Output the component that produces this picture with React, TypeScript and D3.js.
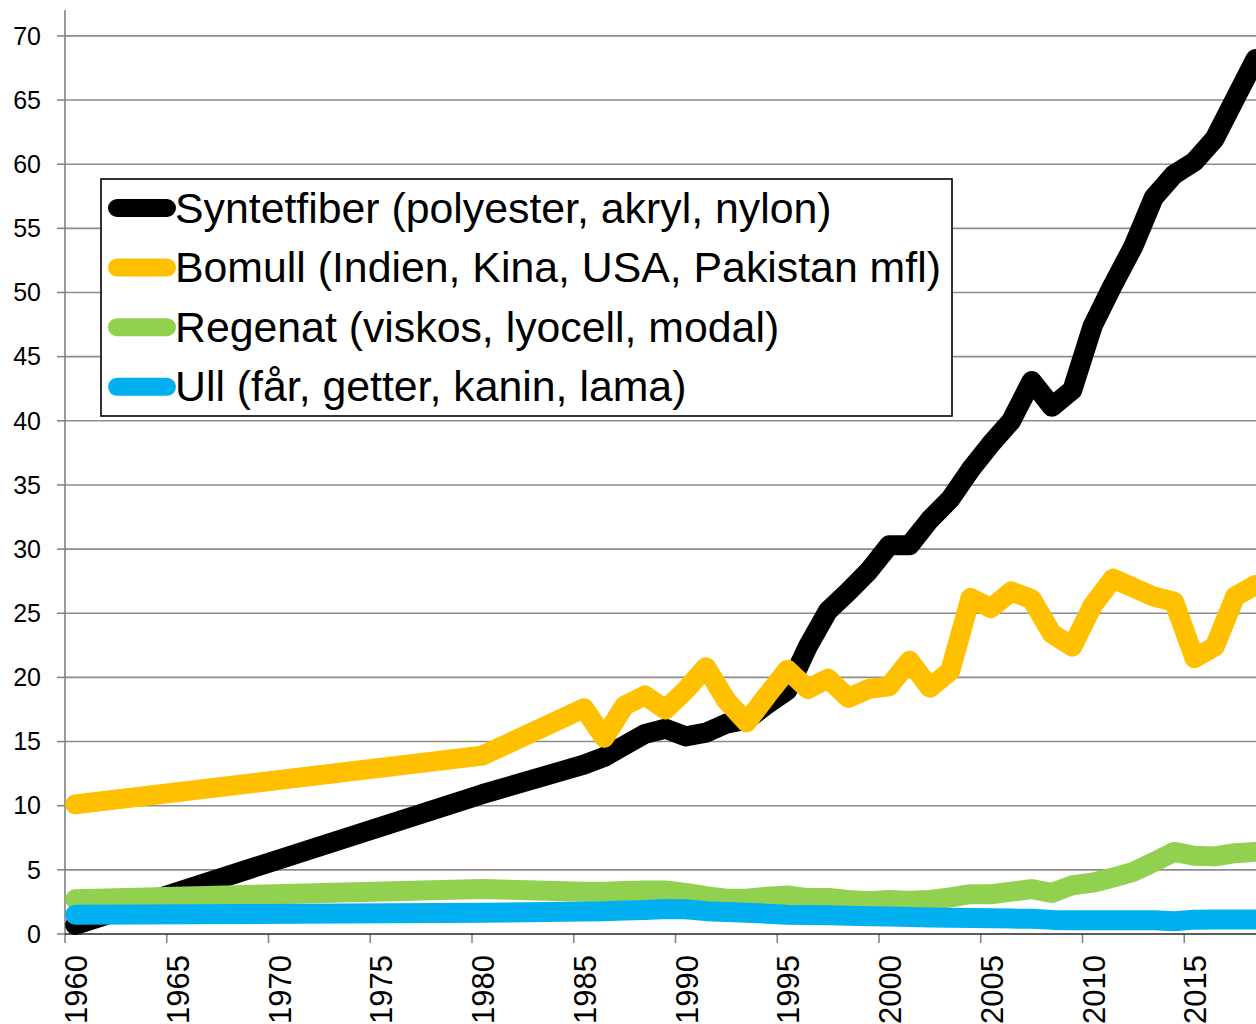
import React from "react";
import * as d3 from "d3";

const categories: number[] = d3.range(1960, 2019);
const dataYears: number[] = [1960, 1980, ...d3.range(1985, 2019)];

const syntetfiber: number[] = [0.7, 10.9,
  13.2, 13.8, 14.7, 15.6, 16.0, 15.4, 15.7, 16.4, 16.7, 17.9,
  19.0, 22.4, 25.2, 26.7, 28.3, 30.3, 30.3, 32.3, 33.9, 36.2,
  38.2, 40.0, 43.1, 41.1, 42.4, 47.4, 50.6, 53.6, 57.4, 59.2,
  60.2, 62.0, 65.1, 68.2];
const bomull: number[] = [10.1, 13.9,
  17.6, 15.3, 17.8, 18.6, 17.5, 19.0, 20.8, 18.2, 16.5, 18.6,
  20.6, 19.1, 19.9, 18.4, 19.1, 19.3, 21.3, 19.2, 20.5, 26.2,
  25.4, 26.7, 26.1, 23.4, 22.4, 25.6, 27.7, 27.0, 26.3, 25.9,
  21.5, 22.4, 26.3, 27.2];
const regenat: number[] = [2.7, 3.5,
  3.3, 3.3, 3.35, 3.4, 3.4, 3.2, 2.95, 2.75, 2.75, 2.9,
  3.0, 2.8, 2.8, 2.65, 2.55, 2.65, 2.6, 2.65, 2.85, 3.1,
  3.1, 3.3, 3.5, 3.2, 3.8, 4.0, 4.4, 4.85, 5.6, 6.4,
  6.1, 6.05, 6.3, 6.4];
const ull: number[] = [1.5, 1.65,
  1.75, 1.78, 1.83, 1.88, 1.95, 1.93, 1.78, 1.72, 1.65, 1.58,
  1.5, 1.48, 1.46, 1.42, 1.38, 1.36, 1.32, 1.28, 1.26, 1.24,
  1.22, 1.2, 1.18, 1.1, 1.08, 1.07, 1.07, 1.07, 1.07, 1.0,
  1.12, 1.13, 1.13, 1.13];

const seriesNames: string[] = [
  "Syntetfiber (polyester, akryl, nylon)",
  "Bomull (Indien, Kina, USA, Pakistan mfl)",
  "Regenat (viskos, lyocell, modal)",
  "Ull (får, getter, kanin, lama)",
];
const seriesColors: string[] = ["#000000", "#FFC000", "#92D050", "#00B0F0"];
const seriesValues: number[][] = [syntetfiber, bomull, regenat, ull];
const yTicks: number[] = d3.range(0, 71, 5);
const xLabelYears: number[] = categories.filter((y) => (y - 1960) % 5 === 0);

const W = 1256;
const H = 1024;
const left = 65;
const bottom = 934;
const step = 20.35;
const FONT = "'Liberation Sans', Arial, sans-serif";

export default function App() {
  const x = d3
    .scaleBand<number>()
    .domain(categories)
    .range([left, left + categories.length * step])
    .paddingInner(0)
    .paddingOuter(0);
  const y = d3.scaleLinear().domain([0, 72]).range([bottom, bottom - 72 * 12.83]);
  const cx = (yr: number) => (x(yr) as number) + x.bandwidth() / 2;
  const line = d3
    .line<[number, number]>()
    .x((d) => cx(d[0]))
    .y((d) => y(d[1]));
  const xRight = left + categories.length * step;

  return (
    <svg
      width={W}
      height={H}
      style={{ position: "absolute", left: 0, top: 0, background: "#fff" }}
      fontFamily={FONT}
    >
      <rect x={0} y={0} width={W} height={H} fill="#fff" />
      {yTicks.filter((t) => t > 0).map((t) => (
        <line key={"g" + t} x1={left} x2={xRight} y1={y(t)} y2={y(t)} stroke="#8c8c8c" strokeWidth={1.6} />
      ))}
      {yTicks.map((t) => (
        <g key={"yt" + t}>
          <line x1={57} x2={left} y1={y(t)} y2={y(t)} stroke="#808080" strokeWidth={1.5} />
          <text x={41} y={y(t)} dy="0.35em" textAnchor="end" fontSize={25} fill="#000">
            {t}
          </text>
        </g>
      ))}
      <line x1={left} x2={left} y1={y(72)} y2={bottom} stroke="#808080" strokeWidth={1.6} />
      {xLabelYears.map((yr) => (
        <g key={"xt" + yr}>
          <line x1={x(yr) as number} x2={x(yr) as number} y1={bottom} y2={bottom + 9} stroke="#808080" strokeWidth={1.5} />
          <text
            transform={`translate(${cx(yr) + 1},955) rotate(-90)`}
            textAnchor="end"
            dy="0.35em"
            fontSize={31}
            fill="#000"
          >
            {yr}
          </text>
        </g>
      ))}
      <line x1={left} x2={xRight} y1={bottom} y2={bottom} stroke="#262626" strokeWidth={1.6} />
      {seriesValues.map((vals, i) => (
        <path
          key={"s" + i}
          d={line(dataYears.map((yr, j) => [yr, vals[j]] as [number, number])) || ""}
          fill="none"
          stroke={seriesColors[i]}
          strokeWidth={20}
          strokeLinejoin="round"
          strokeLinecap="round"
        />
      ))}
      <rect x={101} y={179} width={851} height={237} fill="#fff" stroke="#000" strokeWidth={1.6} />
      {seriesNames.map((name, i) => {
        const ry = 208 + i * 59.6;
        return (
          <g key={"lg" + i}>
            <line x1={117} x2={167} y1={ry} y2={ry} stroke={seriesColors[i]} strokeWidth={18} strokeLinecap="round" />
            <text x={175} y={ry + 14.5} fontSize={42.8} fill="#000">
              {name}
            </text>
          </g>
        );
      })}
    </svg>
  );
}
